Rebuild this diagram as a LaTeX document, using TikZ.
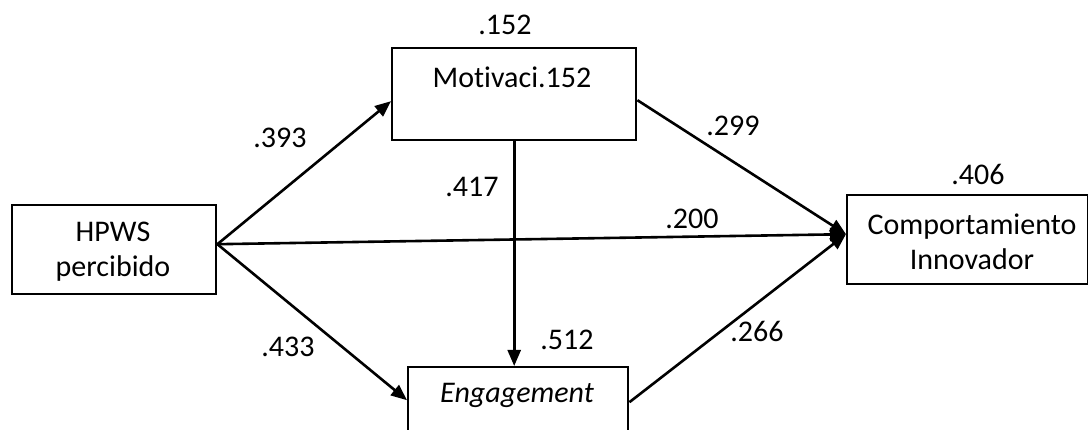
\documentclass[tikz,border=0pt]{standalone}
\usepackage{fontspec}
\setmainfont[Ligatures=NoCommon]{Carlito}
\usetikzlibrary{arrows.meta,calc}
\begin{document}
\begin{tikzpicture}[x=1pt,y=-1pt,
  box/.style={draw=black,line width=2.4pt,rectangle,inner sep=0pt,anchor=north west},
  lbl/.style={inner sep=0pt,font=\fontsize{30}{35}\selectfont},
  arr/.style={line width=2.6pt,-{Triangle[length=16pt,width=13pt]}}]
\useasboundingbox (0,0) rectangle (1088,430);
\fill[white] (0,0) rectangle (1088,430);
\clip (0,0) rectangle (1088,430);
% boxes
\node[box,minimum width=204pt,minimum height=89pt] (hpws) at (11,204) {};
\node[box,minimum width=244pt,minimum height=92pt] (mot) at (391,47) {};
\node[box,minimum width=220pt,minimum height=90pt] (eng) at (407,366) {};
\node[box,minimum width=241pt,minimum height=89pt] (comp) at (846,194) {};
% texts
\node[lbl,align=center] (thpws) at (113,252) {HPWS\\percibido};
\node[lbl] (tmot) at (512,77) {Motivaci.152};
\node[lbl] (teng) at (517,395) {\itshape Engagement};
\node[lbl,align=center] (tcomp) at (972,242) {Comportamiento\\Innovador};
% values
\node[lbl] (v152) at (505,25) {.152};
\node[lbl] (v393) at (280,138) {.393};
\node[lbl] (v299) at (733,126) {.299};
\node[lbl] (v417) at (472,187) {.417};
\node[lbl] (v200) at (692,219) {.200};
\node[lbl] (v406) at (978,174) {.406};
\node[lbl] (v433) at (288,347) {.433};
\node[lbl] (v512) at (567,340) {.512};
\node[lbl] (v266) at (757,331) {.266};
% connection points
\coordinate (hs) at ([yshift=5.5pt]hpws.east);
\coordinate (mw) at ([yshift=-7pt]mot.west);
\coordinate (me) at ([yshift=-6pt]mot.east);
\coordinate (cw) at ([yshift=5.5pt]comp.west);
\coordinate (ew) at ([yshift=12pt]eng.west);
\coordinate (ee) at ([yshift=10pt]eng.east);
% connectors
\draw[arr] (hs) -- (mw);
\draw[arr] (hs) -- (ew);
\draw[arr] (hs) -- (cw);
\draw[arr] (me) -- (cw);
\draw[arr] (ee) -- (cw);
\draw[arr] (mot.south) -- (mot.south |- eng.north);
\end{tikzpicture}
\end{document}
